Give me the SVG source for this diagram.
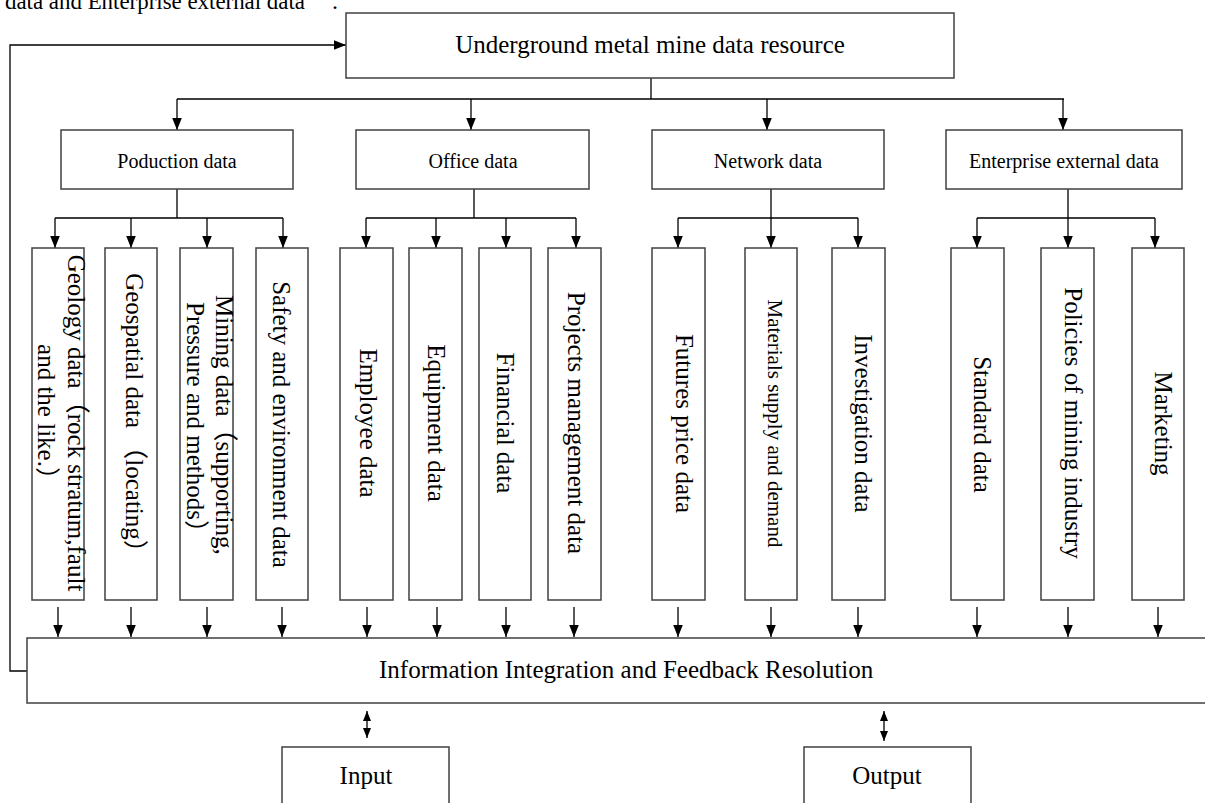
<svg xmlns="http://www.w3.org/2000/svg" width="1205" height="803" viewBox="0 0 1205 803">
<style>
text{font-family:"Liberation Serif","Noto Sans CJK SC",serif;fill:#000}
.box{fill:#fff;stroke:#404040;stroke-width:1.5}
.t25{font-size:25px}
.t20{font-size:20px}
.t21{font-size:21px}
.mid{text-anchor:middle}
.ln{fill:none;stroke:#000;stroke-width:1.3}
.ar{fill:none;stroke:#000;stroke-width:1.3;marker-end:url(#ah)}
.dar{fill:none;stroke:#000;stroke-width:1.3;marker-end:url(#ah2);marker-start:url(#ah2)}
</style>
<defs>
<marker id="ah" viewBox="0 0 10 8" refX="10" refY="4" markerWidth="12" markerHeight="10" markerUnits="userSpaceOnUse" orient="auto"><path d="M0,0 L10,4 L0,8 z" fill="#000"/></marker>
<marker id="ah2" viewBox="0 0 10 8" refX="10" refY="4" markerWidth="10" markerHeight="9" markerUnits="userSpaceOnUse" orient="auto-start-reverse"><path d="M0,0 L10,4 L0,8 z" fill="#000"/></marker>
</defs>
<rect width="1205" height="803" fill="#fff"/>
<text x="5" y="9" style="font-size:24px" textLength="300" lengthAdjust="spacingAndGlyphs">data and Enterprise external data</text>
<text x="332" y="9" style="font-size:24px">.</text>

<g id="connectors">
<path class="ar" d="M27,671 H10 V45 H346"/>
<path class="ln" d="M651,78 V99 M177,99 H1064"/>
<path class="ar" d="M177,99 V130"/>
<path class="ar" d="M471,99 V130"/>
<path class="ar" d="M767,99 V130"/>
<path class="ar" d="M1063,99 V130"/>
<path class="ln" d="M177,189 V218 M55,218 H283"/>
<path class="ar" d="M55,218 V248"/>
<path class="ar" d="M131,218 V248"/>
<path class="ar" d="M207,218 V248"/>
<path class="ar" d="M283,218 V248"/>
<path class="ln" d="M474,189 V218 M366,218 H576"/>
<path class="ar" d="M366,218 V248"/>
<path class="ar" d="M436,218 V248"/>
<path class="ar" d="M506,218 V248"/>
<path class="ar" d="M576,218 V248"/>
<path class="ln" d="M771,189 V218 M678,218 H858"/>
<path class="ar" d="M678,218 V248"/>
<path class="ar" d="M771,218 V248"/>
<path class="ar" d="M858,218 V248"/>
<path class="ln" d="M1068,189 V218 M977,218 H1155"/>
<path class="ar" d="M977,218 V248"/>
<path class="ar" d="M1068,218 V248"/>
<path class="ar" d="M1155,218 V248"/>
<path class="ar" d="M58,607 V637"/>
<path class="ar" d="M131,607 V637"/>
<path class="ar" d="M207,607 V637"/>
<path class="ar" d="M282,607 V637"/>
<path class="ar" d="M367,607 V637"/>
<path class="ar" d="M437,607 V637"/>
<path class="ar" d="M506,607 V637"/>
<path class="ar" d="M574,607 V637"/>
<path class="ar" d="M678,607 V637"/>
<path class="ar" d="M771,607 V637"/>
<path class="ar" d="M858,607 V637"/>
<path class="ar" d="M977,607 V637"/>
<path class="ar" d="M1068,607 V637"/>
<path class="ar" d="M1158,607 V637"/>
<path class="dar" d="M367,711 V738"/>
<path class="dar" d="M884,711 V741"/>
</g>

<g id="root"><rect class="box" x="346" y="13" width="608" height="65"/><text class="t25 mid" x="650" y="53">Underground metal mine data resource</text></g>

<g id="production"><rect class="box" x="61" y="130" width="232" height="59"/><text class="t20 mid" x="177" y="168">Poduction data</text></g>
<g id="office"><rect class="box" x="356" y="130" width="233" height="59"/><text class="t20 mid" x="473" y="168">Office data</text></g>
<g id="network"><rect class="box" x="652" y="130" width="232" height="59"/><text class="t20 mid" x="768" y="168">Network data</text></g>
<g id="external"><rect class="box" x="946" y="130" width="236" height="59"/><text class="t20 mid" x="1064" y="168">Enterprise external data</text></g>

<g id="geology"><rect class="box" x="32" y="248" width="52" height="352"/>
<text class="t25 mid" transform="translate(67.5,423) rotate(90)">Geology data（rock stratum,fault</text>
<text class="t25 mid" transform="translate(38,418) rotate(90)">and the like.）</text></g>
<g id="geospatial"><rect class="box" x="105" y="248" width="52" height="352"/>
<text class="t25 mid" transform="translate(126,419) rotate(90)">Geospatial data （locating）</text></g>
<g id="mining"><rect class="box" x="180" y="248" width="53" height="352"/>
<text class="t25" transform="translate(216,295) rotate(90)">Mining data（supporting,</text>
<text class="t25" transform="translate(186.5,302) rotate(90)">Pressure and methods）</text></g>
<g id="safety"><rect class="box" x="256" y="248" width="52" height="352"/>
<text class="t25 mid" transform="translate(272.5,424.5) rotate(90)">Safety and environment data</text></g>

<g id="employee"><rect class="box" x="340" y="248" width="53" height="352"/>
<text class="t25 mid" transform="translate(360,423) rotate(90)">Employee data</text></g>
<g id="equipment"><rect class="box" x="409" y="248" width="53" height="352"/>
<text class="t25 mid" transform="translate(427.5,423) rotate(90)">Equipment data</text></g>
<g id="financial"><rect class="box" x="479" y="248" width="52" height="352"/>
<text class="t25 mid" transform="translate(496.5,423) rotate(90)">Financial data</text></g>
<g id="projects"><rect class="box" x="548" y="248" width="53" height="352"/>
<text class="t25 mid" transform="translate(567.5,423) rotate(90)">Projects management data</text></g>

<g id="futures"><rect class="box" x="652" y="248" width="53" height="352"/>
<text class="t25 mid" transform="translate(675.5,423.5) rotate(90)">Futures price data</text></g>
<g id="materials"><rect class="box" x="745" y="248" width="52" height="352"/>
<text class="t21 mid" transform="translate(768,423.5) rotate(90)">Materials supply and demand</text></g>
<g id="investigation"><rect class="box" x="832" y="248" width="53" height="352"/>
<text class="t25 mid" transform="translate(854.5,423.5) rotate(90)">Investigation data</text></g>

<g id="standard"><rect class="box" x="951" y="248" width="53" height="352"/>
<text class="t25 mid" transform="translate(973.5,424.5) rotate(90)">Standard data</text></g>
<g id="policies"><rect class="box" x="1041" y="248" width="53" height="352"/>
<text class="t25 mid" transform="translate(1064.5,423) rotate(90)">Policies of mining industry</text></g>
<g id="marketing"><rect class="box" x="1132" y="248" width="52" height="352"/>
<text class="t25 mid" transform="translate(1154.5,423.5) rotate(90)">Marketing</text></g>

<g id="integration"><rect class="box" x="27" y="638" width="1200" height="65"/>
<text class="t25" x="379" y="678">Information Integration and Feedback Resolution</text></g>

<g id="input"><rect class="box" x="282" y="747" width="167" height="70"/><text class="t25 mid" x="366" y="784">Input</text></g>
<g id="output"><rect class="box" x="804" y="747" width="167" height="70"/><text class="t25 mid" x="887" y="784">Output</text></g>
</svg>
